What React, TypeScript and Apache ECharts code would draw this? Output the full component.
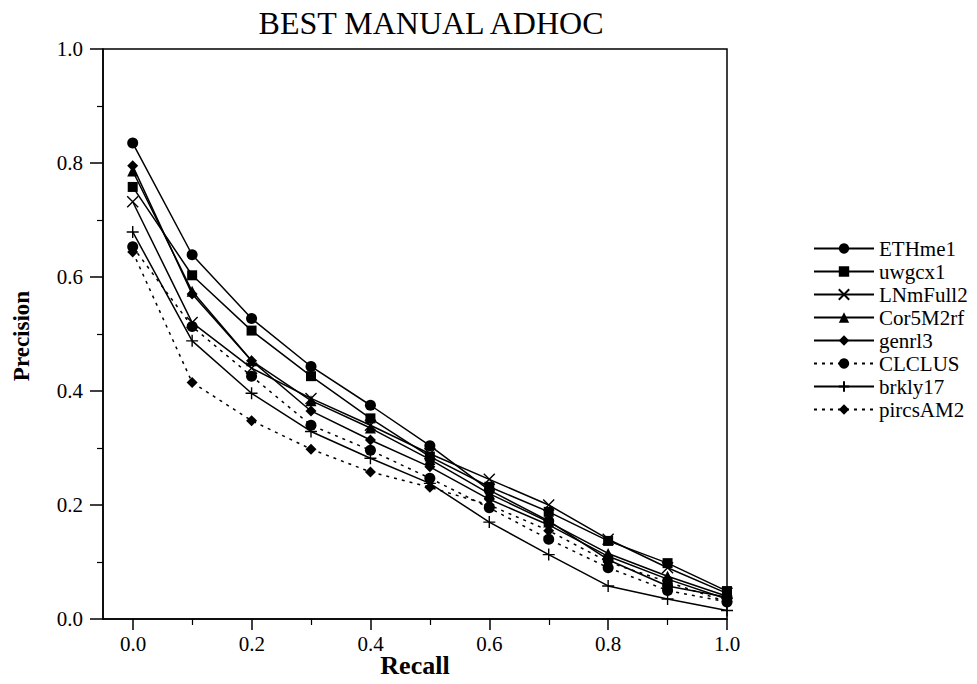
import React, { useEffect, useRef } from "react";
import * as echarts from "echarts";

const recall = [0, 0.1, 0.2, 0.3, 0.4, 0.5, 0.6, 0.7, 0.8, 0.9, 1.0];
const yTicks = [0, 0.2, 0.4, 0.6, 0.8, 1.0];

const ETHme1 = [0.835, 0.639, 0.527, 0.443, 0.375, 0.304, 0.226, 0.172, 0.104, 0.058, 0.038];
const uwgcx1 = [0.758, 0.603, 0.506, 0.426, 0.352, 0.285, 0.232, 0.188, 0.137, 0.098, 0.049];
const LNmFull2 = [0.732, 0.52, 0.44, 0.387, 0.34, 0.29, 0.245, 0.2, 0.14, 0.09, 0.045];
const Cor5M2rf = [0.786, 0.575, 0.453, 0.383, 0.335, 0.28, 0.22, 0.17, 0.115, 0.075, 0.04];
const genrl3 = [0.795, 0.57, 0.453, 0.365, 0.314, 0.267, 0.21, 0.165, 0.11, 0.07, 0.035];
const CLCLUS = [0.653, 0.513, 0.426, 0.34, 0.296, 0.247, 0.195, 0.14, 0.09, 0.05, 0.03];
const brkly17 = [0.679, 0.488, 0.396, 0.329, 0.282, 0.238, 0.17, 0.113, 0.058, 0.035, 0.015];
const pircsAM2 = [0.644, 0.415, 0.348, 0.298, 0.258, 0.231, 0.2, 0.155, 0.1, 0.065, 0.03];

const FONT = "Liberation Serif";
const CROSS = "path://M0,0L10,10M10,0L0,10";
const PLUS = "path://M5,0L5,10M0,5L10,5";

type Def = { name: string; values: number[]; symbol: string; size: number; dotted?: boolean; stroke?: boolean };

const defs: Def[] = [
  { name: "ETHme1", values: ETHme1, symbol: "circle", size: 11 },
  { name: "uwgcx1", values: uwgcx1, symbol: "rect", size: 10 },
  { name: "LNmFull2", values: LNmFull2, symbol: CROSS, size: 11, stroke: true },
  { name: "Cor5M2rf", values: Cor5M2rf, symbol: "triangle", size: 11 },
  { name: "genrl3", values: genrl3, symbol: "diamond", size: 11 },
  { name: "CLCLUS", values: CLCLUS, symbol: "circle", size: 11, dotted: true },
  { name: "brkly17", values: brkly17, symbol: PLUS, size: 12, stroke: true },
  { name: "pircsAM2", values: pircsAM2, symbol: "diamond", size: 11, dotted: true },
];

export default function App() {
  const ref = useRef<HTMLDivElement>(null);
  useEffect(() => {
    if (!ref.current) return;
    const chart = echarts.init(ref.current, null, { renderer: "svg" });
    const series = defs.map((d) => ({
      name: d.name,
      type: "line",
      xAxisIndex: 0,
      yAxisIndex: 0,
      data: recall.map((r, i) => [r, d.values[i]]),
      symbol: d.symbol,
      symbolSize: d.size,
      showAllSymbol: true,
      lineStyle: { color: "#000", width: 1.5, type: d.dotted ? [3, 5] : "solid" },
      itemStyle: d.stroke
        ? { color: "#000", borderColor: "#000", borderWidth: 1.4 }
        : { color: "#000", borderWidth: 0 },
      emphasis: { disabled: true },
    }));
    chart.setOption({
      animation: false,
      backgroundColor: "#fff",
      textStyle: { fontFamily: FONT, color: "#000" },
      grid: [
        { left: 103, right: 250, top: 49, bottom: 65, show: true, borderColor: "#000", borderWidth: 1.5, backgroundColor: "transparent" },
        { left: 133, right: 250, top: 49, bottom: 65, show: false },
      ],
      xAxis: [
        {
          type: "value",
          gridIndex: 0,
          min: -0.05,
          max: 1,
          axisLine: { show: true, onZero: false, lineStyle: { color: "#000", width: 1.5 } },
          axisTick: { show: false },
          axisLabel: { show: false },
          splitLine: { show: false },
        },
        {
          type: "value",
          gridIndex: 1,
          min: 0,
          max: 1,
          interval: 0.2,
          axisLine: { show: false, onZero: false },
          axisTick: { show: true, length: 11, lineStyle: { color: "#000", width: 1.5 } },
          minorTick: { show: true, splitNumber: 2, length: 6, lineStyle: { color: "#000", width: 1.2 } },
          axisLabel: { color: "#000", fontSize: 21, fontFamily: FONT, margin: 14, formatter: (v: number) => v.toFixed(1) },
          splitLine: { show: false },
        },
      ],
      yAxis: [
        {
          type: "value",
          gridIndex: 0,
          min: 0,
          max: 1,
          interval: 0.2,
          axisLine: { show: true, onZero: false, lineStyle: { color: "#000", width: 1.5 } },
          axisTick: { show: true, length: 13, lineStyle: { color: "#000", width: 1.5 } },
          minorTick: { show: true, splitNumber: 2, length: 6, lineStyle: { color: "#000", width: 1.2 } },
          axisLabel: {
            color: "#000",
            fontSize: 21,
            fontFamily: FONT,
            margin: 20,
            customValues: yTicks,
            formatter: (v: number) => v.toFixed(1),
          },
          splitLine: { show: false },
        },
        { type: "value", gridIndex: 1, min: 0, max: 1, show: false },
      ],
      legend: {
        orient: "vertical",
        left: 808,
        top: 233,
        itemWidth: 60,
        itemHeight: 13,
        itemGap: 2,
        selectedMode: false,
        textStyle: { color: "#000", fontSize: 21, lineHeight: 17, fontFamily: FONT },
        data: defs.map((d) => d.name),
      },
      graphic: [
        {
          type: "text",
          x: 431,
          y: 23,
          style: { text: "BEST MANUAL ADHOC", fill: "#000", font: `32px ${FONT}`, textAlign: "center", textVerticalAlign: "middle" },
        },
        {
          type: "text",
          x: 415,
          y: 665,
          style: { text: "Recall", fill: "#000", font: `bold 26px ${FONT}`, textAlign: "center", textVerticalAlign: "middle" },
        },
        {
          type: "text",
          x: 21,
          y: 336,
          rotation: Math.PI / 2,
          style: { text: "Precision", fill: "#000", font: `bold 23px ${FONT}`, textAlign: "center", textVerticalAlign: "middle" },
        },
      ],
      series,
    });
    return () => chart.dispose();
  }, []);
  return <div ref={ref} style={{ position: "fixed", left: 0, top: 0, width: 977, height: 684, background: "#fff" }} />;
}
